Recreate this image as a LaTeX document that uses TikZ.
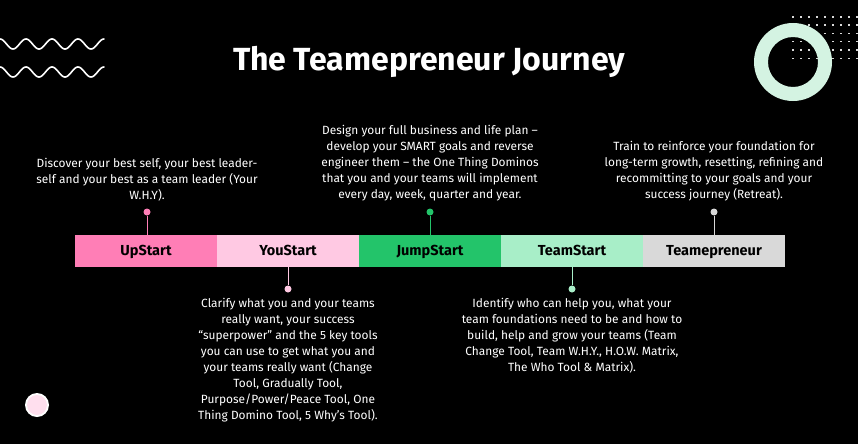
\documentclass[tikz,border=0pt]{standalone}
\usepackage{fontspec}
\setmainfont{Fira Sans}
\begin{document}
\begin{tikzpicture}[x=1pt,y=-1pt,
 seg/.style={minimum width=142pt,minimum height=32pt,inner sep=0pt,font=\fontsize{14.5}{16}\selectfont\bfseries,text=black,text height=10pt,text depth=2pt},
 desc/.style={align=center,text=white,font=\fontsize{11.9}{16}\selectfont,inner sep=0pt},
 stem/.style={line width=1pt},
 dot/.style={circle,minimum size=7pt,inner sep=0pt}]
\fill[black] (0,0) rectangle (858,444);
\useasboundingbox (0,0) rectangle (858,444);
\definecolor{cA}{HTML}{FF7EB6}\definecolor{cB}{HTML}{FFC9E3}\definecolor{cC}{HTML}{23C46A}
\definecolor{cD}{HTML}{A8EEC8}\definecolor{cE}{HTML}{D9D9D9}\definecolor{mint}{HTML}{D4F3E2}
% waves
\foreach \yy in {44,72}{
 \draw[white,line width=1.6pt,line cap=round] plot[domain=0:104,samples=120,smooth] (\x,{\yy-5*sin(\x/26*360+90)});}
% dot grid
\foreach \i in {0,...,8}\foreach \j in {0,...,5}{\fill[white!85!black] (792+\i*8,16+\j*8.3) rectangle +(1.6,1.6);}
% ring
\fill[mint,even odd rule] (793,62) circle (39) circle (25);
% small circle
\fill[white] (37,405) circle (12);\fill[cB!60!white] (37,405) circle (10);
\node[text=white,font=\fontsize{32}{34}\selectfont\bfseries] (title) at (429,62) {The Teamepreneur Journey};
\node[seg,fill=cA] (s1) at (146,251) {UpStart};
\node[seg,fill=cB] (s2) at (288,251) {YouStart};
\node[seg,fill=cC] (s3) at (430,251) {JumpStart};
\node[seg,fill=cD] (s4) at (572,251) {TeamStart};
\node[seg,fill=cE] (s5) at (714,251) {Teamepreneur};
\node[dot,fill=cA] (d1) at (147,212) {};\draw[stem,cA] (d1) -- (d1|-s1.north);
\node[dot,fill=cB] (d2) at (288,289) {};\draw[stem,cB] (d2) -- (d2|-s2.south);
\node[dot,fill=cC] (d3) at (430,212) {};\draw[stem,cC] (d3) -- (d3|-s3.north);
\node[dot,fill=cD] (d4) at (572,289) {};\draw[stem,cD] (d4) -- (d4|-s4.south);
\node[dot,fill=cE] (d5) at (714,212) {};\draw[stem,cE] (d5) -- (d5|-s5.north);
\node[desc,anchor=south] (t1) at (147,201) {Discover your best self, your best leader-\\self and your best as a team leader (Your\\W.H.Y).};
\node[desc,anchor=south] (t3) at (430,201) {Design your full business and life plan –\\develop your SMART goals and reverse\\engineer them – the One Thing Dominos\\that you and your teams will implement\\every day, week, quarter and year.};
\node[desc,anchor=south] (t5) at (714,201) {Train to reinforce your foundation for\\long-term growth, resetting, refining and\\recommitting to your goals and your\\success journey (Retreat).};
\node[desc,anchor=north] (t2) at (288,298) {Clarify what you and your teams\\really want, your success\\“superpower” and the 5 key tools\\you can use to get what you and\\your teams really want (Change\\Tool, Gradually Tool,\\Purpose/Power/Peace Tool, One\\Thing Domino Tool, 5 Why’s Tool).};
\node[desc,anchor=north] (t4) at (572,298) {Identify who can help you, what your\\team foundations need to be and how to\\build, help and grow your teams (Team\\Change Tool, Team W.H.Y., H.O.W. Matrix,\\The Who Tool \& Matrix).};
\end{tikzpicture}
\end{document}
